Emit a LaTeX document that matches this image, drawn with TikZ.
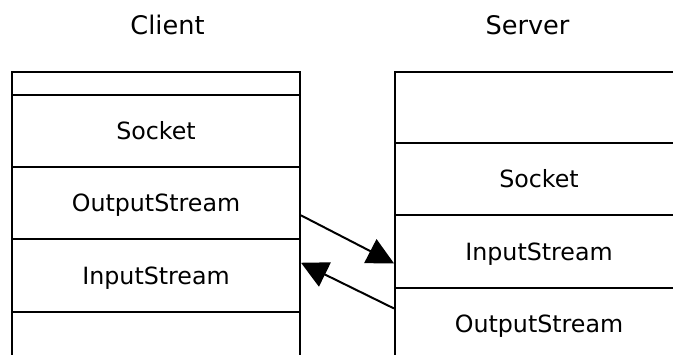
\documentclass[tikz,border=0pt]{standalone}
\usepackage{fontspec}
\setmainfont{DejaVu Sans}
\usetikzlibrary{arrows.meta,calc}

\begin{document}
\begin{tikzpicture}[
    x=0.75pt, y=-0.75pt,
    row/.style={draw=black, line width=1.5pt, minimum width=216pt,
      inner sep=0pt, font=\fontsize{17.8}{20}\selectfont,
      text height=13pt, text depth=0pt},
    title/.style={font=\fontsize{19.2}{22}\selectfont, anchor=base},
    link/.style={draw=black, line width=1.5pt,
      -{Triangle[length=20pt,width=20pt]}}
  ]
  \useasboundingbox (0,0) rectangle (673,354);
  \clip (0,0) rectangle (673,354);

  % column titles
  \node[title] (tclient) at (167.5,34) {Client};
  \node[title] (tserver) at (527.5,34) {Server};

  % client stack
  \node[row, minimum height=17.25pt] (c0) at (156,83.5) {};
  \node[row, minimum height=54pt]    (c1) at (156,131)  {Socket};
  \node[row, minimum height=54pt]    (c2) at (156,203)  {OutputStream};
  \node[row, minimum height=54.75pt] (c3) at (156,275.5) {InputStream};
  \node[row, minimum height=54pt]    (c4) at (156,348)  {};

  % server stack
  \node[row, minimum height=53.25pt] (s0) at (539,107.5) {};
  \node[row, minimum height=54pt]    (s1) at (539,179)   {Socket};
  \node[row, minimum height=54.75pt] (s2) at (539,251.5) {InputStream};
  \node[row, minimum height=54pt]    (s3) at (539,324)   {OutputStream};

  % stream connections
  \coordinate (cout) at ($(c2.north east)!0.667!(c2.south east)$);
  \coordinate (sin)  at ($(s2.north west)!0.658!(s2.south west)$);
  \coordinate (sout) at ($(s3.north west)!0.29!(s3.south west)$);
  \coordinate (cin)  at ($(c3.north east)!0.33!(c3.south east)$);
  \draw[link] (cout) -- (sin);
  \draw[link] (sout) -- (cin);
\end{tikzpicture}
\end{document}
